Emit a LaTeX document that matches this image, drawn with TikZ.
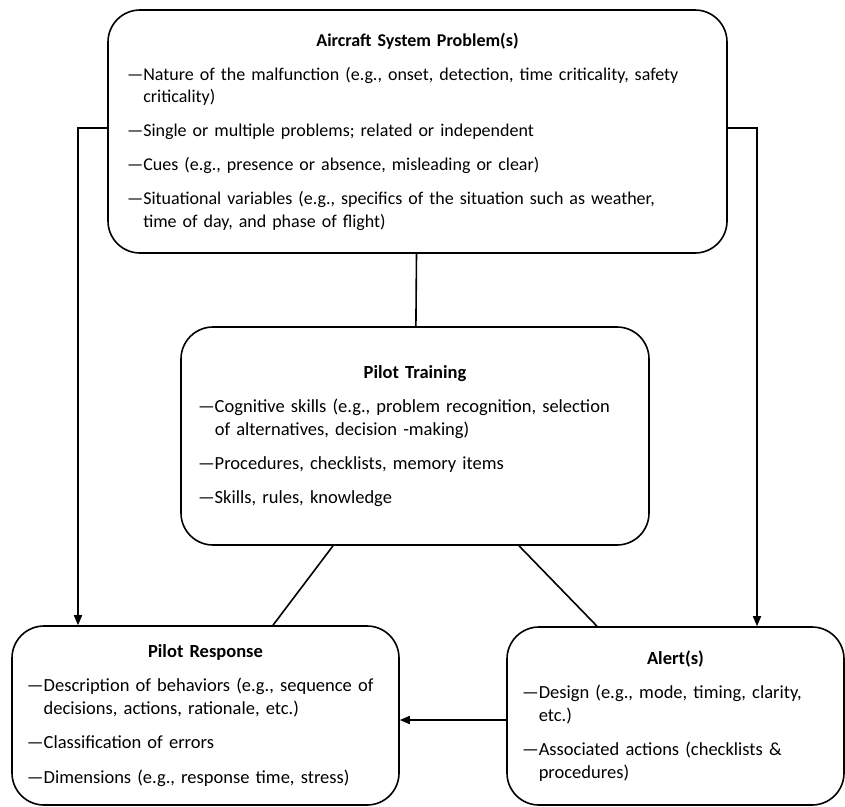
\documentclass[tikz,border=0pt]{standalone}
\usepackage{fontspec}
\setmainfont{Carlito}
\usetikzlibrary{arrows.meta, positioning}
\newlength{\dashwd}
\newcommand{\entry}[1]{\vskip 11.5pt\settowidth{\dashwd}{—}\hangindent=\dashwd\hangafter=1\noindent—#1\par}
\newcommand{\boxtitle}[1]{\centerline{\bfseries #1}}
\tikzset{
  every picture/.style={line width=1.6pt},
  box/.style={draw, rounded corners=32pt, align=left, inner xsep=#1, inner ysep=0pt, font=\fontsize{18.5}{22.8}\selectfont},
  box/.default=15pt,
  arrow/.style={-{Triangle[length=10pt, width=8pt]}},
}
\begin{document}
\begin{tikzpicture}[x=1pt, y=-1pt]
  \useasboundingbox (0,0) rectangle (845,806);

  % boxes
  \node[box=19pt, font=\fontsize{18}{22.5}\selectfont, text width=581pt, minimum width=619pt, minimum height=243pt] (asp) at (417.5,131.5) {\boxtitle{Aircraft System Problem(s)}%
    \entry{Nature of the malfunction (e.g., onset, detection, time criticality, safety\newline criticality)}%
    \entry{Single or multiple problems; related or independent}%
    \entry{Cues (e.g., presence or absence, misleading or clear)}%
    \entry{Situational variables (e.g., specifics of the situation such as weather,\newline time of day, and phase of flight)}};
  \node[box=17pt, text width=434pt, minimum width=468pt, minimum height=218pt] (pt) at (415,436) {\boxtitle{Pilot Training}%
    \entry{Cognitive skills (e.g., problem recognition, selection\newline of alternatives, decision -making)}%
    \entry{Procedures, checklists, memory items}%
    \entry{Skills, rules, knowledge}};
  \node[box, text width=357pt, minimum width=387pt, minimum height=179pt] (pr) at (205.5,715.5) {\boxtitle{Pilot Response}%
    \entry{Description of behaviors (e.g., sequence of\newline decisions, actions, rationale, etc.)}%
    \entry{Classification of errors}%
    \entry{Dimensions (e.g., response time, stress)}};
  \node[box, text width=307pt, minimum width=337pt, minimum height=178pt] (alert) at (675.5,716) {\boxtitle{Alert(s)}%
    \entry{Design (e.g., mode, timing, clarity,\newline etc.)}%
    \entry{Associated actions (checklists \&\newline procedures)}};

  % links
  \coordinate (lbend) at (78,128);
  \coordinate (rbend) at (757,128);
  \draw (asp) -- (pt);
  \draw[arrow] (asp.west |- lbend) -- (lbend) -- (lbend |- pr.north);
  \draw[arrow] (asp.east |- rbend) -- (rbend) -- (rbend |- alert.north);
  \draw ([xshift=-82pt]pt.south) -- ([xshift=67.5pt]pr.north);
  \draw ([xshift=104pt]pt.south) -- ([xshift=-78.5pt]alert.north);
  \draw[arrow] (alert.west |- 0,720) -- (pr.east |- 0,720);
\end{tikzpicture}
\end{document}
